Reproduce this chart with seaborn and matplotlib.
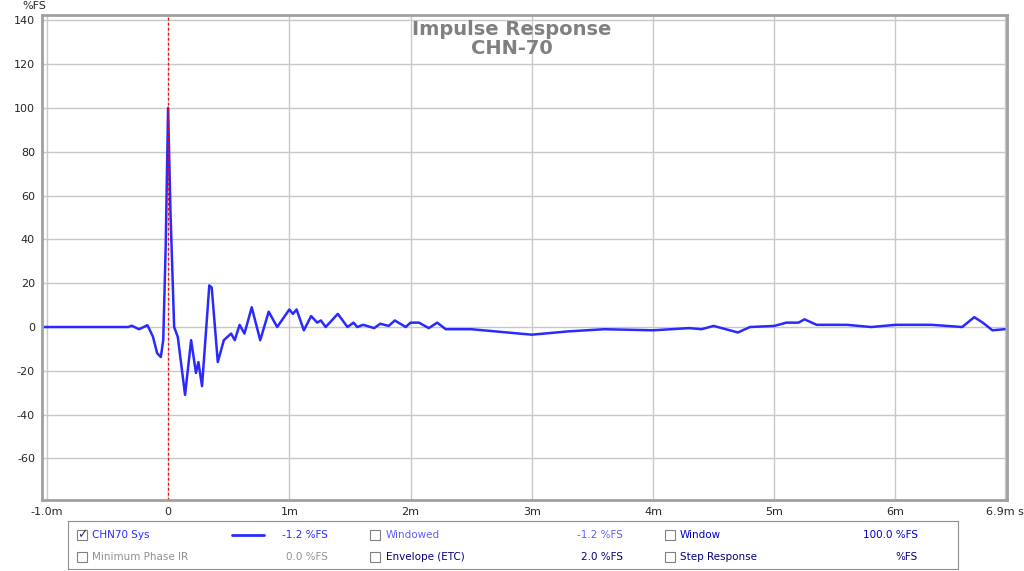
import matplotlib
matplotlib.use("Agg")
import matplotlib.pyplot as plt
import seaborn as sns
import numpy as np
import pandas as pd

t_ms = [-1.05,-0.6,-0.33,-0.30,-0.24,-0.17,-0.125,-0.09,-0.06,-0.04,-0.02,0.0,0.02,0.05,0.08,0.14,0.19,0.23,0.25,0.28,0.34,0.36,0.41,0.46,0.52,0.55,0.59,0.63,0.69,0.76,0.83,0.90,1.00,1.03,1.06,1.12,1.18,1.23,1.26,1.30,1.40,1.48,1.53,1.56,1.61,1.70,1.75,1.82,1.87,1.96,2.0,2.07,2.15,2.22,2.29,2.5,2.8,3.0,3.3,3.6,4.0,4.3,4.4,4.5,4.7,4.8,5.0,5.1,5.2,5.25,5.35,5.6,5.8,6.0,6.3,6.55,6.65,6.72,6.8,6.9]
val = [0.0,0.0,0.0,0.6,-1.0,0.8,-4.4,-12,-13.7,-6,36,100,52,0,-4.5,-31,-6,-21,-16,-27,19,18,-16,-6,-3,-6,1,-3,9,-6,7,0,8,6,8,-1.5,5,2,3,0,6,0,2,0,1,-0.5,1.5,0.5,3,0,2,2,-0.5,2,-1,-1,-2.5,-3.5,-2,-1,-1.5,-0.5,-1,0.5,-2.5,0,0.5,2,2,3.5,1,1,0,1,1,0,4.5,2,-1.5,-1]
xticks = [-1.0,0,1,2,3,4,5,6,6.9]
xlabels = ["-1.0m","0","1m","2m","3m","4m","5m","6m","6.9m s"]
yticks = [140,120,100,80,60,40,20,0,-20,-40,-60]

sns.set_style("white")
plt.rcParams['font.family'] = ['DejaVu Sans']
fig = plt.figure(figsize=(10.24,5.71), dpi=100)
ax = fig.add_axes([42/1024, 1-500/571, 965/1024, 485/571])
df = pd.DataFrame({"t": t_ms, "v": val})
sns.lineplot(data=df, x="t", y="v", ax=ax, color="#2a2aff", lw=1.8, sort=False)
ax.axvline(0, color="red", ls=(0,(2,2)), lw=0.9)
ax.set_xlim(-1.04, 6.92)
ax.set_ylim(-79, 142.5)
ax.set_xticks(xticks); ax.set_xticklabels(xlabels, fontsize=8)
ax.set_yticks(yticks); ax.set_yticklabels([str(y) for y in yticks], fontsize=8)
ax.grid(True, color="#c8c8c8", lw=1)
ax.set_xlabel(""); ax.set_ylabel("")
for s in ax.spines.values():
    s.set_color("#a0a0a0"); s.set_linewidth(2)
ax.tick_params(length=3, pad=2)
fig.text(0.5, 1-39/571, "Impulse Response\nCHN-70", ha="center", va="center", fontsize=14, fontweight="bold", color="#808080", linespacing=1.0)
fig.text(22/1024, 1-6/571, "%FS", fontsize=8, va="center")

lg = fig.add_axes([68/1024, 2/571, 890/1024, 48/571])
lg.set_xlim(0, 890); lg.set_ylim(48, 0)
lg.set_xticks([]); lg.set_yticks([])
for s in lg.spines.values():
    s.set_color("#909090")
def cb(x, y, checked=False):
    lg.add_patch(plt.Rectangle((x, y-5), 10, 10, fill=False, ec="#808080", lw=0.8))
    if checked:
        lg.text(x+5, y, "✓", ha="center", va="center", fontsize=9, color="#333366")
row1, row2 = 14, 36
cb(9, row1, True); lg.text(24, row1, "CHN70 Sys", color="#2a2aff", fontsize=7.5, va="center")
lg.plot([164, 196], [row1, row1], color="#2a2aff", lw=2)
lg.text(260, row1, "-1.2 %FS", color="#2a2aff", fontsize=7.5, va="center", ha="right")
cb(9, row2); lg.text(24, row2, "Minimum Phase IR", color="#909090", fontsize=7.5, va="center")
lg.text(260, row2, "0.0 %FS", color="#909090", fontsize=7.5, va="center", ha="right")
cb(302, row1); lg.text(318, row1, "Windowed", color="#6060ff", fontsize=7.5, va="center")
lg.text(555, row1, "-1.2 %FS", color="#6060ff", fontsize=7.5, va="center", ha="right")
cb(302, row2); lg.text(318, row2, "Envelope (ETC)", color="#000080", fontsize=7.5, va="center")
lg.text(555, row2, "2.0 %FS", color="#000080", fontsize=7.5, va="center", ha="right")
cb(597, row1); lg.text(612, row1, "Window", color="#0000cc", fontsize=7.5, va="center")
lg.text(850, row1, "100.0 %FS", color="#0000cc", fontsize=7.5, va="center", ha="right")
cb(597, row2); lg.text(612, row2, "Step Response", color="#000080", fontsize=7.5, va="center")
lg.text(850, row2, "%FS", color="#000080", fontsize=7.5, va="center", ha="right")

fig.savefig("out.png", dpi=100)
